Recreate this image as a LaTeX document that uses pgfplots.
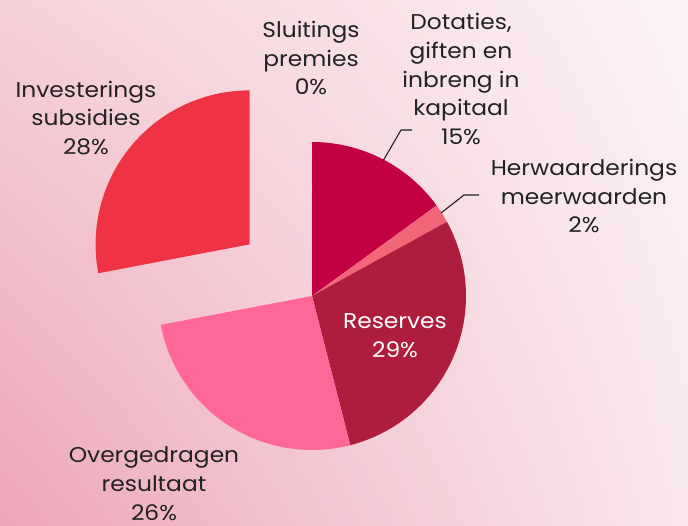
\documentclass[border=0pt]{standalone}
\usepackage{pgfplots}
\pgfplotsset{compat=1.18}
\usepackage{fontspec}
\setmainfont{Poppins}[FakeStretch=1.09]
\usetikzlibrary{calc,shadings}
\definecolor{cDot}{HTML}{C30042}
\definecolor{cHer}{HTML}{F2667A}
\definecolor{cRes}{HTML}{AE1D3C}
\definecolor{cOve}{HTML}{FE6798}
\definecolor{cInv}{HTML}{F03344}
\definecolor{cSlu}{HTML}{E8456A}
\definecolor{bgUL}{HTML}{F5D1D9}
\definecolor{bgLL}{HTML}{ECA5B9}
\definecolor{bgUR}{HTML}{FCF2F4}
\definecolor{bgLR}{HTML}{F9E8EC}
\definecolor{txt}{HTML}{222222}
\begin{document}
\begin{tikzpicture}
\begin{axis}[width=688bp,height=526bp,scale only axis,
  xmin=0,xmax=688,ymin=0,ymax=526,hide axis,clip=false]
\pgfplotsextra{
  % background
  \shade[upper left=bgUL,lower left=bgLL,upper right=bgUR,lower right=bgLR]
    (axis cs:0,0) rectangle (axis cs:688,526);
  % pie: value / cumulative start / colour / explode (px)
  \foreach \v/\s/\c/\e in {15/0/cDot/0, 2/15/cHer/0, 29/17/cRes/0, 26/46/cOve/0, 28/72/cInv/81, 0/100/cSlu/0}{
    \pgfmathsetmacro\a{90-3.6*\s}
    \pgfmathsetmacro\b{90-3.6*(\s+\v)}
    \pgfmathsetmacro\m{(\a+\b)/2}
    \ifdim\v pt>0pt
    \fill[\c] ($(axis cs:312,230)+(\m:\e bp)$) -- ++(\a:154bp)
      arc[start angle=\a,end angle=\b,radius=154bp] -- cycle;
    \fi
  }
  % leader lines
  \draw[txt,line width=1.1bp] (axis cs:383,365) -- (axis cs:401,396) -- (axis cs:412,396);
  \draw[txt,line width=1.1bp] (axis cs:441,313) -- (axis cs:464,331) -- (axis cs:479,331);
  % labels
  \begin{scope}[every node/.style={align=center,text=txt,font=\fontsize{21.5}{29}\selectfont,inner sep=0pt}]
  \node at (axis cs:311,468) {Sluitings\\premies\\0\%};
  \node at (axis cs:461,447) {Dotaties,\\giften en\\inbreng in\\kapitaal\\15\%};
  \node at (axis cs:86,408) {Investerings\\subsidies\\28\%};
  \node at (axis cs:584,330) {Herwaarderings\\meerwaarden\\2\%};
  \node[text=white] at (axis cs:395,190) {Reserves\\29\%};
  \node at (axis cs:154,42) {Overgedragen\\resultaat\\26\%};
  \end{scope}
}
\end{axis}
\end{tikzpicture}
\end{document}
